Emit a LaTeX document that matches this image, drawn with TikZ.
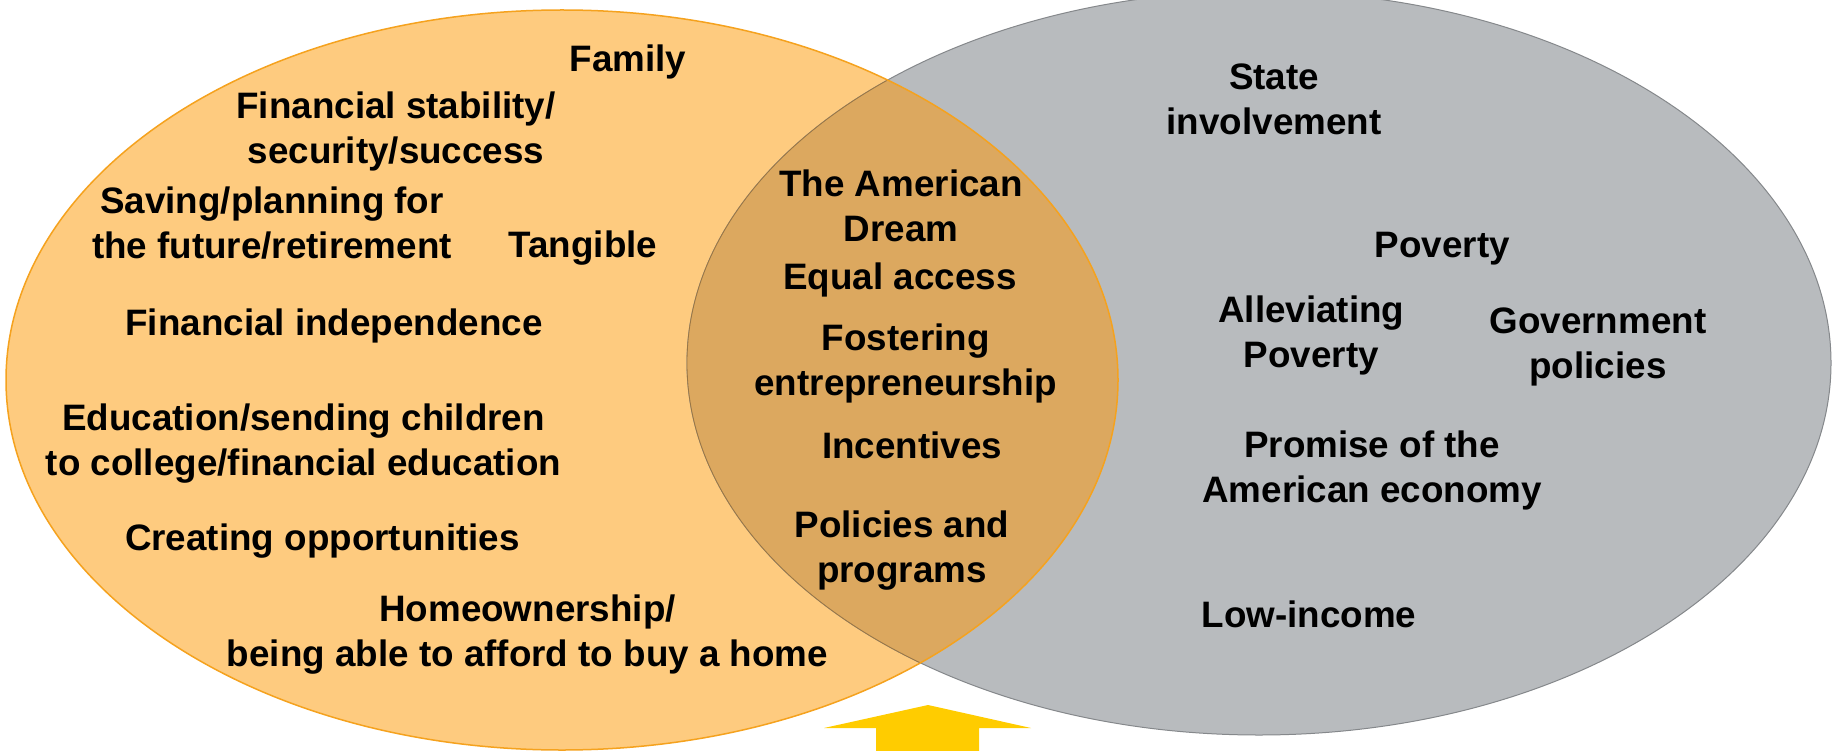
\documentclass[tikz,border=0pt]{standalone}
\usepackage{fontspec}
\setmainfont{Liberation Sans}
\begin{document}
\definecolor{lightorange}{HTML}{FECB7F}
\definecolor{orangeedge}{HTML}{F5A21E}
\definecolor{overlapfill}{HTML}{DCA85F}
\definecolor{greyfill}{HTML}{B8BBBE}
\definecolor{greyedge}{HTML}{85888B}
\definecolor{arrowyellow}{HTML}{FFCC00}
\begin{tikzpicture}[x=1pt,y=-1pt,
  term/.style={align=center,font=\fontsize{36.8}{45}\selectfont\bfseries,inner sep=0pt,text=black}]
\useasboundingbox (0,0) rectangle (1835,751);
% the two sets
\fill[lightorange] (562,380) ellipse [x radius=556pt, y radius=370pt];
\filldraw[fill=greyfill,draw=greyedge,line width=1pt] (1259,363) ellipse [x radius=572pt, y radius=372pt];
\begin{scope}
  \clip (562,380) ellipse [x radius=556pt, y radius=370pt];
  \fill[overlapfill] (1259,363) ellipse [x radius=572pt, y radius=372pt];
  \draw[color=overlapfill!70!black,line width=0.8pt] (1259,363) ellipse [x radius=572pt, y radius=372pt];
\end{scope}
\draw[orangeedge,line width=1.5pt] (562,380) ellipse [x radius=556pt, y radius=370pt];
% upward block arrow
\fill[arrowyellow] (928,705) -- (1031,728) -- (979,728) -- (979,751) -- (876,751) -- (876,728) -- (824,728) -- cycle;
% left set
\node[term] (family) at (628,62) {Family};
\node[term] (stability) at (396,131) {Financial stability/\\security/success};
\node[term] (saving) at (272,223) {Saving/planning for\\the future/retirement};
\node[term] (tangible) at (583,248) {Tangible};
\node[term] (independence) at (334,326) {Financial independence};
\node[term] (education) at (303.5,444) {Education/sending children\\to college/financial education};
\node[term] (opportunities) at (322.4,541) {Creating opportunities};
\node[term] (home) at (527.5,635) {Homeownership/\\being able to afford to buy a home};
% shared
\node[term] (dream) at (901,205.5) {The American\\Dream};
\node[term] (access) at (900,280) {Equal access};
\node[term] (fostering) at (905.8,363.5) {Fostering\\entrepreneurship};
\node[term] (incentives) at (912,445.5) {Incentives};
\node[term] (programs) at (902,550.5) {Policies and\\programs};
% right set
\node[term] (state) at (1274,99) {State\\involvement};
\node[term] (poverty) at (1442.4,249) {Poverty};
\node[term] (alleviating) at (1311.3,335.5) {Alleviating\\Poverty};
\node[term] (government) at (1598,346.5) {Government\\policies};
\node[term] (promise) at (1372,470) {Promise of the\\American economy};
\node[term] (lowincome) at (1309,614.5) {Low-income};
\end{tikzpicture}
\end{document}
